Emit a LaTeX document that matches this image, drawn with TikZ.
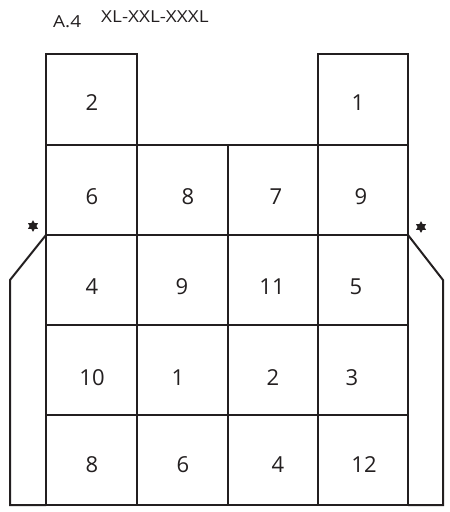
\documentclass[tikz,border=0pt]{standalone}
\usepackage{fontspec}
\setmainfont{Open Sans}
\definecolor{ink}{RGB}{35,31,32}
\begin{document}
\begin{tikzpicture}[x=1pt,y=-1pt,
  grid/.style={line width=2pt,draw=ink,line join=miter},
  num/.style={font=\fontsize{22}{22}\selectfont,text=ink,inner sep=0pt},
  ttl/.style={font=\fontsize{16.5}{16.5}\selectfont,text=ink,inner sep=0pt,anchor=base west,xscale=1.15}]
\useasboundingbox (0,0) rectangle (450,512);
% titles
\node[ttl] (t1) at (53,27) {A.4};
\node[ttl] (t2) at (101,22) {XL-XXL-XXXL};
% top boxes
\draw[grid] (46,145) -- (46,54) -- (137,54) -- (137,145);
\draw[grid] (318,145) -- (318,54) -- (408,54) -- (408,145);
% main grid
\draw[grid] (46,145) rectangle (408,505);
\foreach \y in {145,235,325,415} \draw[grid] (46,\y) -- (408,\y);
\foreach \x in {137,228,318} \draw[grid] (\x,145) -- (\x,505);
% side pieces
\draw[grid] (46,235) -- (10,280) -- (10,505) -- (46,505);
\draw[grid] (408,235) -- (443,280) -- (443,505) -- (408,505);
% stars
\fill[ink] (33,226) +(90:5.8) -- +(210:5.8) -- +(330:5.8) -- cycle;
\fill[ink] (33,226) +(270:5.8) -- +(30:5.8) -- +(150:5.8) -- cycle;
\fill[ink] (421,227) +(90:5.8) -- +(210:5.8) -- +(330:5.8) -- cycle;
\fill[ink] (421,227) +(270:5.8) -- +(30:5.8) -- +(150:5.8) -- cycle;
% numbers
\node[num] (n11) at (92,103) {2};
\node[num] (n14) at (358,103) {1};
\node[num] (n21) at (92,197) {6};
\node[num] (n22) at (188,197) {8};
\node[num] (n23) at (276,197) {7};
\node[num] (n24) at (361,197) {9};
\node[num] (n31) at (92,287) {4};
\node[num] (n32) at (182,287) {9};
\node[num] (n33) at (272,287) {11};
\node[num] (n34) at (356,287) {5};
\node[num] (n41) at (92,378) {10};
\node[num] (n42) at (178,378) {1};
\node[num] (n43) at (273,378) {2};
\node[num] (n44) at (352,378) {3};
\node[num] (n51) at (92,465) {8};
\node[num] (n52) at (183,465) {6};
\node[num] (n53) at (278,465) {4};
\node[num] (n54) at (364,465) {12};
\end{tikzpicture}
\end{document}
